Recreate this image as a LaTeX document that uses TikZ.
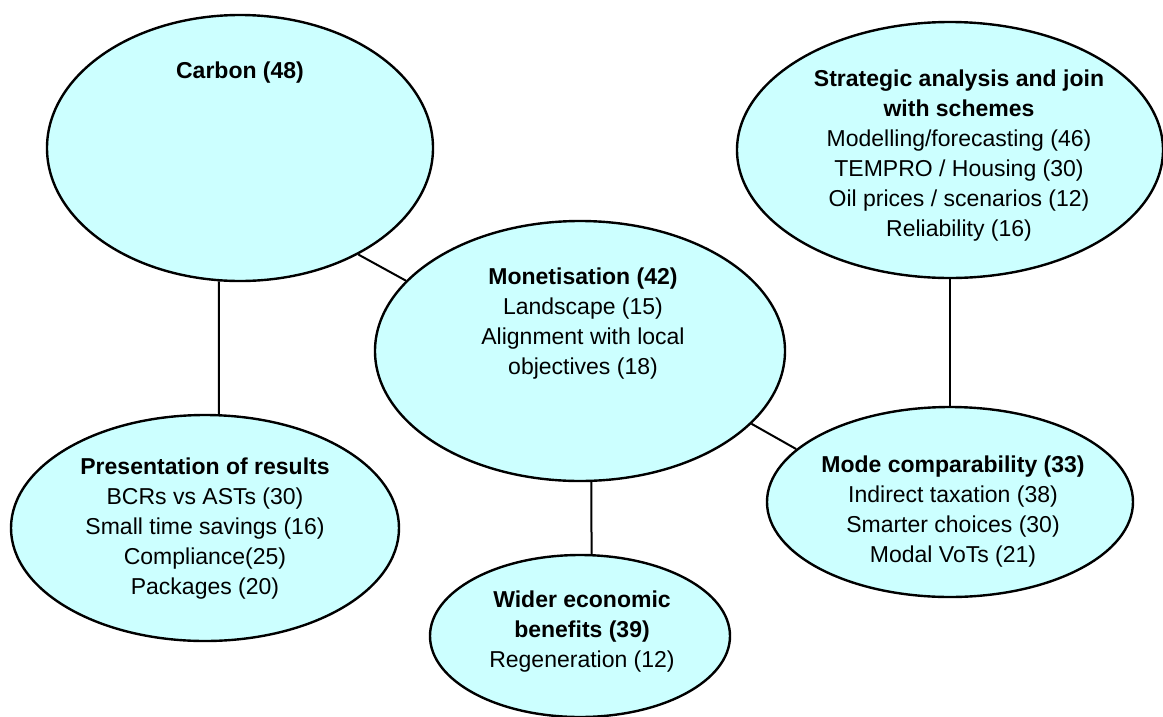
\documentclass[tikz,border=0pt]{standalone}
\usepackage{fontspec}
\setmainfont{Liberation Sans}
\usetikzlibrary{shapes.geometric}
\definecolor{bubble}{HTML}{CCFFFF}
\tikzset{
  bubble/.style={ellipse, draw=black, line width=2.4pt, fill=bubble, inner sep=0pt},
  label/.style={align=center, inner sep=0pt, font=\fontsize{23}{30}\selectfont},
  link/.style={draw=black, line width=2pt}
}
\begin{document}
\begin{tikzpicture}[x=1pt,y=-1pt]
\useasboundingbox (0,0) rectangle (1163,716);
% ellipses
\node[bubble, minimum width=386pt, minimum height=266pt] (carbon) at (240,148) {};
\node[bubble, minimum width=426pt, minimum height=256pt] (strat) at (950,150) {};
\node[bubble, minimum width=410pt, minimum height=260pt] (mon) at (580,351) {};
\node[bubble, minimum width=388pt, minimum height=226pt] (pres) at (205,528) {};
\node[bubble, minimum width=366pt, minimum height=190pt] (mode) at (950,502) {};
\node[bubble, minimum width=300pt, minimum height=162pt] (wider) at (580,636) {};
% texts
\node[label] (tcarbon) at (240,73) {\textbf{Carbon (48)}};
\node[label] (tstrat) at (959,156) {\textbf{Strategic analysis and join}\\\textbf{with schemes}\\Modelling/forecasting (46)\\TEMPRO / Housing (30)\\Oil prices / scenarios (12)\\Reliability (16)};
\node[label] (tmon) at (583,324) {\textbf{Monetisation (42)}\\Landscape (15)\\Alignment with local\\objectives (18)};
\node[label] (tpres) at (205,529) {\textbf{Presentation of results}\\BCRs vs ASTs (30)\\Small time savings (16)\\Compliance(25)\\Packages (20)};
\node[label] (tmode) at (953,512) {\textbf{Mode comparability (33)}\\Indirect taxation (38)\\Smarter choices (30)\\Modal VoTs (21)};
\node[label] (twider) at (582,632) {\textbf{Wider economic}\\\textbf{benefits (39)}\\Regeneration (12)};
% connectors
\draw[link] (carbon.-42.2) -- (mon.158.7);
\draw[link] (carbon.-99) -- (pres.83);
\draw[link] (strat.south) -- (mode.north);
\draw[link] (mon.-23.8) -- (mode.161.8);
\draw[link] (mon.-85.2) -- (wider.82.2);
\end{tikzpicture}
\end{document}
